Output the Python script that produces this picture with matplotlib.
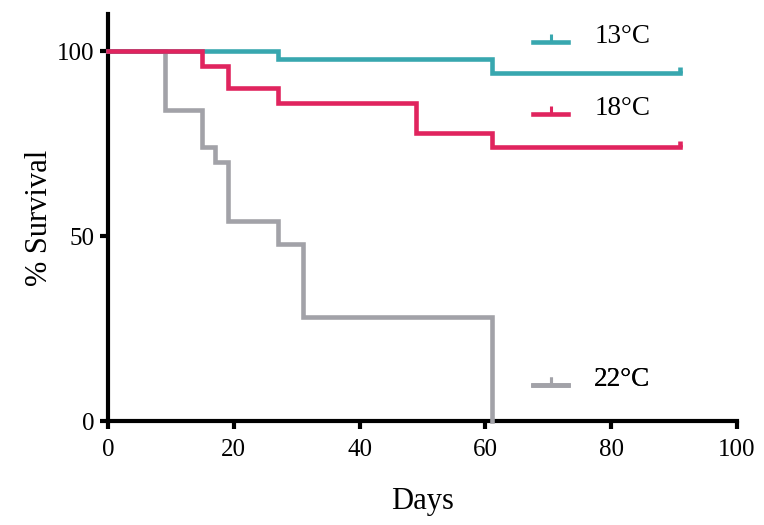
import matplotlib
matplotlib.use("Agg")
import matplotlib.pyplot as plt
from matplotlib.path import Path
from matplotlib.lines import Line2D
from matplotlib.legend_handler import HandlerLine2D

plt.rcParams['font.family'] = 'serif'
plt.rcParams['font.serif'] = ['Liberation Serif', 'Times New Roman', 'DejaVu Serif']

# Kaplan-Meier step data (days, % survival)
days_13 = [0, 27, 61, 91]
surv_13 = [100, 98, 94, 94]
days_18 = [0, 15, 19, 27, 49, 61, 91]
surv_18 = [100, 96, 90, 86, 78, 74, 74]
days_22 = [0, 9, 15, 17, 19, 27, 31, 61, 61]
surv_22 = [100, 84, 74, 70, 54, 48, 28, 0, 0]

labels = ['13°C', '18°C', '22°C']
colors = ['#38A7AF', '#E0245E', '#A2A2A8']
xticks = [0, 20, 40, 60, 80, 100]
yticks = [0, 50, 100]

tick_marker = Path([(0, 0), (0, 1)], [Path.MOVETO, Path.LINETO])


class ShiftedHandler(HandlerLine2D):
    def create_artists(self, legend, orig_handle, xdescent, ydescent,
                       width, height, fontsize, trans):
        arts = super().create_artists(legend, orig_handle, xdescent, ydescent,
                                      width, height, fontsize, trans)
        for a in arts:
            yd = a.get_ydata()
            a.set_ydata([v - 0.3 * fontsize for v in yd])
        return arts


fig = plt.figure(figsize=(7.64, 5.25), dpi=100)
ax = fig.add_axes([0.1414, 0.198, 0.8233, 0.775])

series = [(days_13, surv_13), (days_18, surv_18), (days_22, surv_22)]
for i, ((d, s), c) in enumerate(zip(series, colors)):
    if i < 2:
        ax.plot(d, s, drawstyle='steps-post', color=c, lw=3.3, clip_on=False,
                solid_joinstyle='miter', marker=tick_marker, markevery=[len(d) - 1],
                markersize=9, markeredgewidth=3.3, zorder=3 + i * 0.1)
    else:
        ax.plot(d, s, drawstyle='steps-post', color=c, lw=3.3, clip_on=False,
                solid_joinstyle='miter', zorder=2.9)

ax.set_xlim(0, 100)
ax.set_ylim(0, 110)
ax.set_xticks(xticks)
ax.set_yticks(yticks)
ax.tick_params(axis='both', direction='out', length=6, width=3, labelsize=18)
ax.tick_params(axis='x', pad=7)
ax.tick_params(axis='y', pad=4)
for sp in ['top', 'right']:
    ax.spines[sp].set_visible(False)
for sp in ['left', 'bottom']:
    ax.spines[sp].set_linewidth(3)

ax.set_xlabel('Days', fontsize=22, labelpad=19)
ax.set_ylabel('% Survival', fontsize=22, labelpad=2)

leg_pos = [0.945, 0.767, 0.101]
for lab, c, y in zip(labels, colors, leg_pos):
    h = Line2D([], [], color=c, lw=3.3, marker=tick_marker, markersize=12,
               markeredgewidth=2.2)
    leg = ax.legend([h], [lab], loc='center left', bbox_to_anchor=(0.676, y),
                    frameon=False, fontsize=19.5, handlelength=1.3, handletextpad=0.95,
                    borderpad=0, borderaxespad=0,
                    handler_map={Line2D: ShiftedHandler()})
    ax.add_artist(leg)

fig.savefig('out.png', dpi=100)
